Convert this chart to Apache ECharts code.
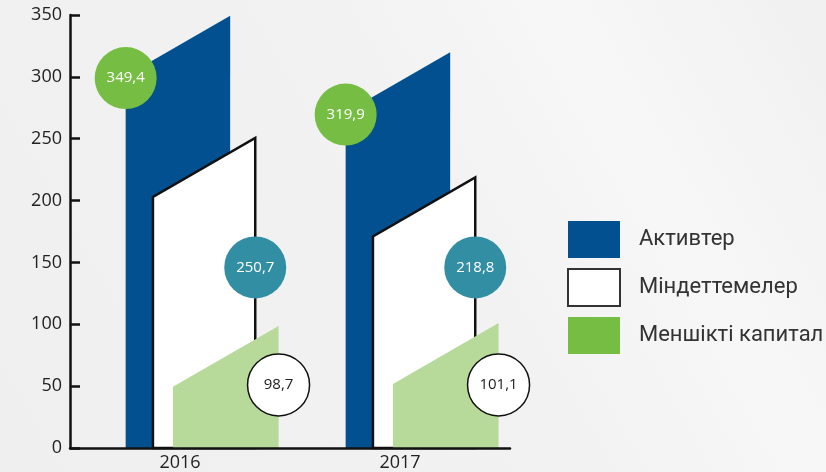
<!DOCTYPE html>
<html><head><meta charset="utf-8">
<script src="https://cdn.jsdelivr.net/npm/echarts@6/dist/echarts.min.js"></script>
<style>html,body{margin:0;padding:0;}#c{width:826px;height:472px;}</style>
</head><body><div id="c"></div>
<script>
const categories = ['2016', '2017'];
const assets = [349.4, 319.9];
const liabilities = [250.7, 218.8];
const equity = [98.7, 101.1];
const valueLabels = {
  assets: ['349,4', '319,9'],
  liabilities: ['250,7', '218,8'],
  equity: ['98,7', '101,1']
};
const seriesNames = ['Активтер', 'Міндеттемелер', 'Меншікті капитал'];
const yTicks = { min: 0, max: 350, interval: 50 };

const chart = echarts.init(document.getElementById('c'));
const SLANT = Math.tan(Math.PI / 6);
const R = 31;
const FONT = '"Open Sans", sans-serif';

const cfg = [
  { off: -0.247, w: 0.475, fill: '#02508F', stroke: null, circle: '#76BE43', circleStroke: null, text: '#ffffff', anchor: 'topLeft' },
  { off: -0.123, w: 0.465, fill: '#ffffff', stroke: '#111111', circle: '#328FA3', circleStroke: null, text: '#ffffff', anchorValue: 146 },
  { off: -0.032, w: 0.48, fill: '#B7DA9A', stroke: null, circle: '#ffffff', circleStroke: '#111111', text: '#222222', anchorValue: 51 }
];
const labelKeys = ['assets', 'liabilities', 'equity'];
const legendColors = ['#02508F', '#ffffff', '#76BE43'];

function makeRender(si) {
  return function (params, api) {
    const idx = api.value(0);
    const val = api.value(1);
    const c = cfg[si];
    const band = api.size([1, 0])[0];
    const center = api.coord([idx, 0]);
    const bottom = center[1];
    const top = api.coord([idx, val])[1];
    const xl = center[0] + c.off * band;
    const xr = xl + c.w * band;
    const topLeft = top + (xr - xl) * SLANT;
    const children = [{
      type: 'polygon',
      shape: { points: [[xl, bottom], [xl, topLeft], [xr, top], [xr, bottom]] },
      style: { fill: c.fill, stroke: c.stroke || null, lineWidth: c.stroke ? 2.5 : 0, lineJoin: 'miter' }
    }];
    let cx, cy;
    if (c.anchor === 'topLeft') { cx = xl; cy = topLeft + 2; }
    else { cx = xr; cy = api.coord([idx, c.anchorValue])[1]; }
    children.push({
      type: 'circle', z2: 10,
      shape: { cx: cx, cy: cy, r: R },
      style: { fill: c.circle, stroke: c.circleStroke || null, lineWidth: c.circleStroke ? 1.5 : 0 }
    });
    children.push({
      type: 'text', z2: 11,
      style: { x: cx, y: cy, text: valueLabels[labelKeys[si]][idx], fill: c.text, font: '15px ' + FONT, align: 'center', verticalAlign: 'middle' }
    });
    return { type: 'group', children: children };
  };
}

const dataSets = [assets, liabilities, equity];
const series = dataSets.map((arr, si) => ({
  type: 'custom',
  name: seriesNames[si],
  renderItem: makeRender(si),
  encode: { x: 0, y: 1 },
  itemStyle: { color: legendColors[si] },
  data: arr.map((v, i) => [i, v]),
  z: 2 + si
}));

chart.setOption({
  animation: false,
  backgroundColor: {
    type: 'linear', x: 0, y: 1, x2: 1, y2: 0,
    colorStops: [
      { offset: 0, color: '#efefef' },
      { offset: 0.55, color: '#f2f2f2' },
      { offset: 0.75, color: '#f7f7f7' },
      { offset: 0.9, color: '#f3f3f3' },
      { offset: 1, color: '#f0f0f0' }
    ]
  },
  grid: { left: 70, right: 316, top: 15, bottom: 24, containLabel: false },
  legend: {
    orient: 'vertical', left: 567, top: 221, padding: 0,
    itemWidth: 52, itemHeight: 37, itemGap: 10,
    textStyle: { fontFamily: 'Roboto', fontSize: 22, color: '#333333', padding: [0, 0, 0, 14] },
    data: [
      { name: seriesNames[0], icon: 'rect', itemStyle: { color: legendColors[0], borderWidth: 0 } },
      { name: seriesNames[1], icon: 'rect', itemStyle: { color: legendColors[1], borderColor: '#333333', borderWidth: 2 } },
      { name: seriesNames[2], icon: 'rect', itemStyle: { color: legendColors[2], borderWidth: 0 } }
    ],
    selectedMode: false
  },
  xAxis: {
    type: 'category', data: categories, boundaryGap: true,
    axisLine: { lineStyle: { color: '#111', width: 2.5 } },
    axisTick: { inside: true, length: 10, lineStyle: { color: '#111', width: 2.5 } },
    axisLabel: { fontFamily: FONT, fontSize: 18, color: '#222', margin: 6 },
    z: 10
  },
  yAxis: {
    type: 'value', min: yTicks.min, max: yTicks.max, interval: yTicks.interval,
    splitLine: { show: false },
    axisLine: { show: true, lineStyle: { color: '#111', width: 2.5 } },
    axisTick: { show: true, inside: true, length: 10, lineStyle: { color: '#111', width: 2.5 } },
    axisLabel: { fontFamily: FONT, fontSize: 18, color: '#222', margin: 8 },
    z: 10
  },
  series: series
});
</script></body></html>
